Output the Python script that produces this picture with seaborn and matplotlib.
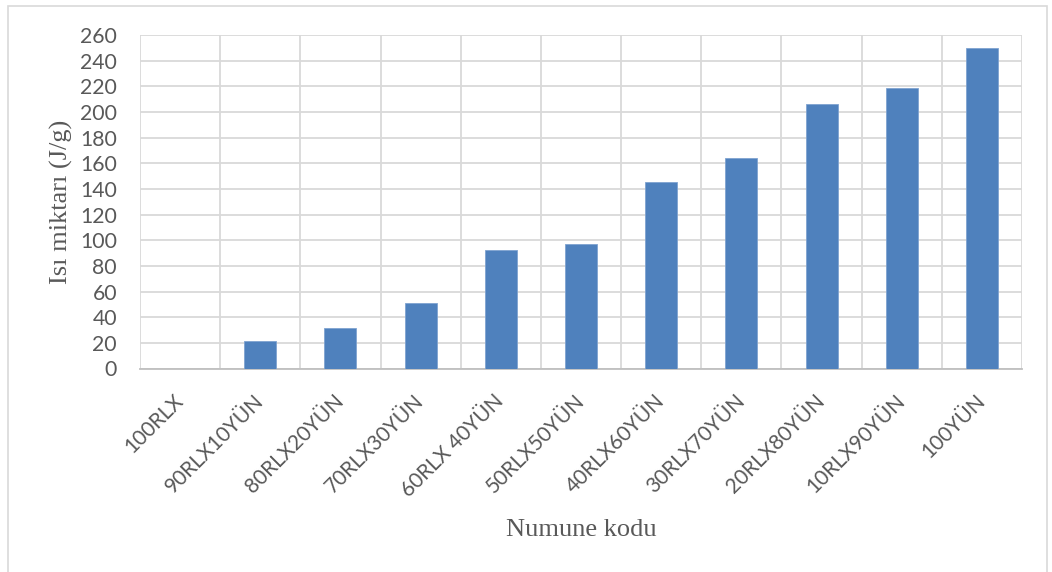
import matplotlib
matplotlib.use("Agg")
import matplotlib.pyplot as plt
from matplotlib.patches import Rectangle
import seaborn as sns
import pandas as pd
import numpy as np

# Sample codes (RLX / wool blend ratios) and measured heat values
samples = ["100RLX", "90RLX10YÜN", "80RLX20YÜN", "70RLX30YÜN", "60RLX 40YÜN",
           "50RLX50YÜN", "40RLX60YÜN", "30RLX70YÜN", "20RLX80YÜN", "10RLX90YÜN",
           "100YÜN"]
heat = [0, 21.5, 31.5, 51, 92, 96.7, 145.5, 164, 206, 219, 250]
y_ticks = list(range(0, 261, 20))

df = pd.DataFrame({"Numune": samples, "Isi": heat})

sns.set_theme(style="white")
plt.rcParams["font.family"] = ["Lato", "DejaVu Sans"]

W, H = 1052, 572
ax_left, ax_right, ax_top, ax_bottom = 140, 1022, 35, 368.5
fig = plt.figure(figsize=(W / 100, H / 100), dpi=100)
ax = fig.add_axes([ax_left / W, 1 - ax_bottom / H,
                   (ax_right - ax_left) / W, (ax_bottom - ax_top) / H])

sns.barplot(data=df, x="Numune", y="Isi", color="#4F81BD", saturation=1,
            width=0.4, edgecolor="#7FA3D0", linewidth=0.6, ax=ax, zorder=3)

ax.set_ylim(0, 260)
ax.set_xlim(-0.5, len(samples) - 0.5)
ax.set_yticks(y_ticks)
ax.set_yticklabels([str(v) for v in y_ticks], fontsize=15.3, color="#595959")

# category boundaries as vertical gridlines
ax.set_xticks(np.arange(-0.5, len(samples), 1.0), minor=True)
ax.set_xticks(range(len(samples)))
ax.set_xticklabels(samples, rotation=45, ha="right", va="center",
                   rotation_mode="anchor", fontsize=15, color="#595959")
ax.tick_params(axis="both", which="both", length=0)
ax.tick_params(axis="x", pad=21)
ax.tick_params(axis="y", pad=16.5)

ax.grid(True, axis="y", which="major", color="#D9D9D9", linewidth=1.3, zorder=0)
ax.grid(True, axis="x", which="minor", color="#D9D9D9", linewidth=1.3, zorder=0)
ax.grid(False, axis="x", which="major")
ax.set_axisbelow(True)

for side in ["top", "right", "left"]:
    ax.spines[side].set_visible(False)
ax.spines["bottom"].set_color("#BFBFBF")
ax.spines["bottom"].set_linewidth(1.3)

ax.set_xlabel("Numune kodu", family=["Liberation Serif"], fontsize=19,
              color="#595959")
ax.set_ylabel("Isı miktarı (J/g)", family=["Liberation Serif"], fontsize=19,
              color="#595959")
ax_w, ax_h = ax_right - ax_left, ax_bottom - ax_top
ax.xaxis.set_label_coords(0.5, (ax_bottom - 519) / ax_h)
ax.yaxis.set_label_coords((73 - ax_left) / ax_w, 0.5)

# outer chart frame
fig.patches.append(Rectangle((8 / W, -0.02), (1047 - 8) / W, 1 - 6 / H + 0.02,
                             transform=fig.transFigure, fill=False,
                             edgecolor="#D9D9D9", linewidth=1.2))

fig.savefig("out.png", dpi=100, facecolor="white")
